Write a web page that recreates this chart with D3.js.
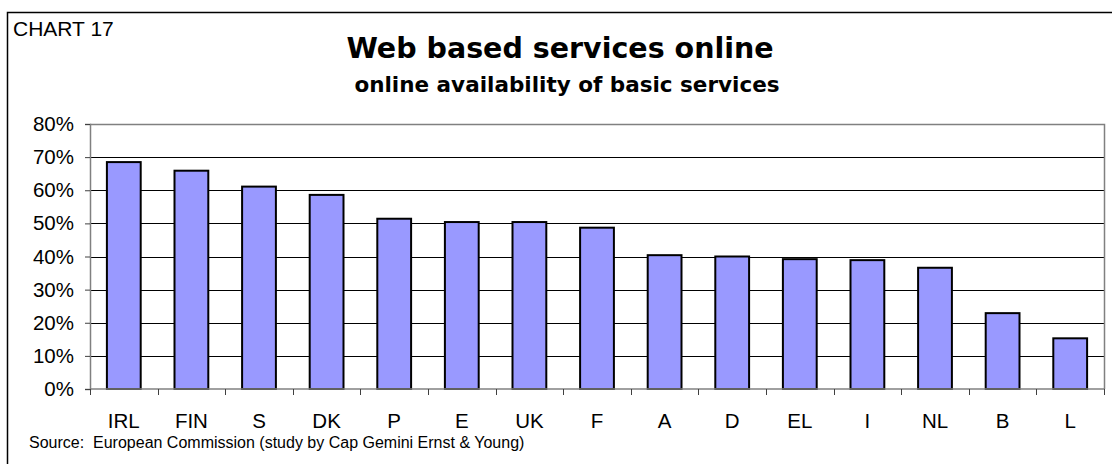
<!DOCTYPE html>
<html>
<head>
<meta charset="utf-8">
<script src="https://cdn.jsdelivr.net/npm/d3@7"></script>
<style>
  body { margin: 0; background: #fff; }
  svg { display: block; }
</style>
</head>
<body>
<svg id="chart"></svg>
<script>
const countries = ["IRL", "FIN", "S", "DK", "P", "E", "UK", "F", "A", "D", "EL", "I", "NL", "B", "L"];
const availability = [0.685, 0.659, 0.611, 0.586, 0.514, 0.504, 0.504, 0.487, 0.404, 0.400, 0.392, 0.389, 0.366, 0.229, 0.153];
const yTicks = [0, 0.1, 0.2, 0.3, 0.4, 0.5, 0.6, 0.7, 0.8];

const W = 1112, H = 464;
const plot = { left: 90, right: 1104, top: 124, bottom: 389 };

const svg = d3.select("#chart").attr("width", W).attr("height", H);

// outer frame (runs off the right and bottom of the picture)
svg.append("rect")
  .attr("x", 7.5).attr("y", 12.5)
  .attr("width", 1200).attr("height", 500)
  .attr("fill", "none").attr("stroke", "#000").attr("stroke-width", 1.5);

svg.append("text")
  .attr("x", 13).attr("y", 36)
  .attr("font-family", "Liberation Sans, Arial, sans-serif")
  .attr("font-size", 21)
  .text("CHART 17");

svg.append("text")
  .attr("x", 560).attr("y", 58)
  .attr("text-anchor", "middle")
  .attr("font-family", "DejaVu Sans, Verdana, sans-serif")
  .attr("font-weight", "bold")
  .attr("font-size", 28.5)
  .text("Web based services online");

svg.append("text")
  .attr("x", 567).attr("y", 92)
  .attr("text-anchor", "middle")
  .attr("font-family", "DejaVu Sans, Verdana, sans-serif")
  .attr("font-weight", "bold")
  .attr("font-size", 21.5)
  .text("online availability of basic services");

const x = d3.scaleBand()
  .domain(countries)
  .range([plot.left, plot.right])
  .paddingInner(0.5)
  .paddingOuter(0.25);

const y = d3.scaleLinear()
  .domain([0, 0.8])
  .range([plot.bottom, plot.top]);

// gridlines
svg.append("g")
  .selectAll("line")
  .data(yTicks.filter(t => t > 0 && t < 0.8))
  .join("line")
  .attr("x1", plot.left).attr("x2", plot.right)
  .attr("y1", d => Math.round(y(d)) + 0.5).attr("y2", d => Math.round(y(d)) + 0.5)
  .attr("stroke", "#000").attr("stroke-width", 1);

// plot border top and right
svg.append("path")
  .attr("d", `M${plot.left},${plot.top + 0.5}H${plot.right + 0.5}V${plot.bottom}`)
  .attr("fill", "none").attr("stroke", "#808080").attr("stroke-width", 1.5);

// bars
svg.append("g")
  .selectAll("rect")
  .data(countries.map((c, i) => ({ c, v: availability[i] })))
  .join("rect")
  .attr("x", d => x(d.c))
  .attr("y", d => y(d.v))
  .attr("width", x.bandwidth())
  .attr("height", d => y(0) - y(d.v))
  .attr("fill", "#9999ff")
  .attr("stroke", "#000")
  .attr("stroke-width", 2);

// y axis
const yAxis = svg.append("g")
  .attr("transform", `translate(${plot.left},0)`)
  .call(d3.axisLeft(y).tickValues(yTicks).tickFormat(d3.format(".0%")).tickSize(5).tickPadding(11));
yAxis.select(".domain").attr("stroke", "#808080").attr("stroke-width", 1.5);
yAxis.selectAll(".tick line").attr("stroke", "#404040");
yAxis.selectAll("text")
  .attr("font-family", "Liberation Sans, Arial, sans-serif")
  .attr("font-size", 20.5)
  .attr("fill", "#000");

// x axis: ticks sit between categories
const step = x.step();
const xAxis = svg.append("g")
  .attr("transform", `translate(0,${plot.bottom})`);
xAxis.append("line")
  .attr("x1", plot.left).attr("x2", plot.right)
  .attr("stroke", "#808080").attr("stroke-width", 1.5);
xAxis.selectAll(".sep")
  .data(d3.range(countries.length + 1))
  .join("line")
  .attr("class", "sep")
  .attr("x1", i => Math.round(plot.left + i * step) + 0.5)
  .attr("x2", i => Math.round(plot.left + i * step) + 0.5)
  .attr("y1", 0).attr("y2", 6)
  .attr("stroke", "#404040");
xAxis.selectAll(".lbl")
  .data(countries)
  .join("text")
  .attr("class", "lbl")
  .attr("x", d => x(d) + x.bandwidth() / 2)
  .attr("y", 39)
  .attr("text-anchor", "middle")
  .attr("font-family", "Liberation Sans, Arial, sans-serif")
  .attr("font-size", 20.5)
  .text(d => d);

svg.append("text")
  .attr("x", 29).attr("y", 448)
  .attr("font-family", "Liberation Sans, Arial, sans-serif")
  .attr("font-size", 16)
  .attr("xml:space", "preserve")
  .text("Source:  European Commission (study by Cap Gemini Ernst & Young)");
</script>
</body>
</html>
